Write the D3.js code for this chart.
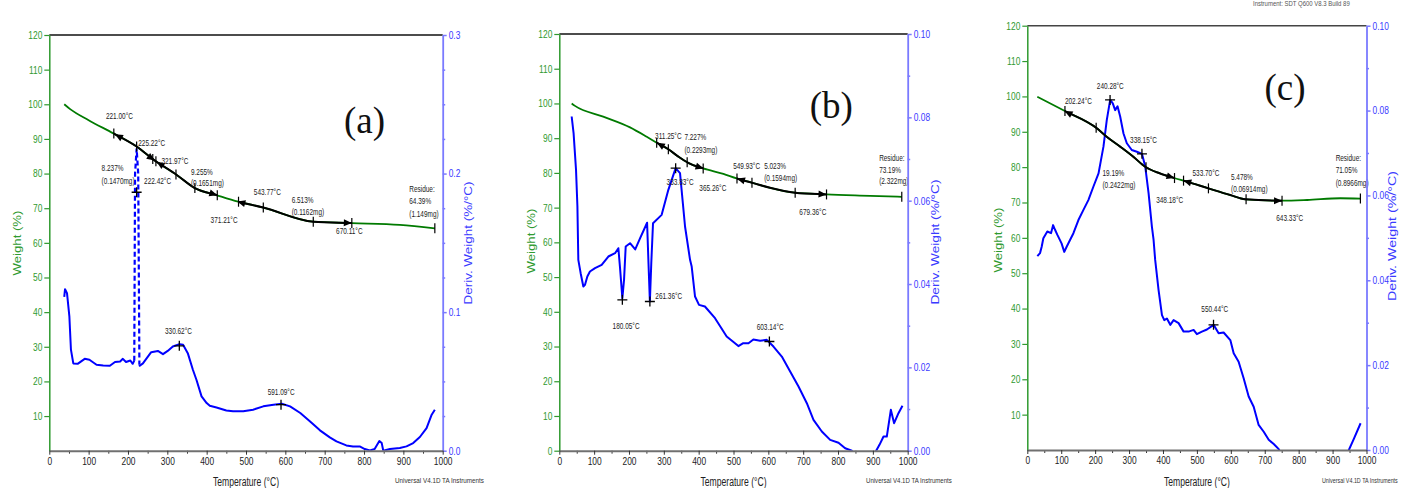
<!DOCTYPE html>
<html><head><meta charset="utf-8">
<script src="https://cdn.jsdelivr.net/npm/d3@7"></script>
<style>
body{margin:0;background:#fff;}
svg{display:block;}
text{font-family:"Liberation Sans",Arial,sans-serif;}
</style></head><body>
<svg id="chart" width="1402" height="488"></svg>
<script>
// ---------- tick labels ----------
const xTickVals = [0,100,200,300,400,500,600,700,800,900,1000];
const xMinorVals = [50,150,250,350,450,550,650,750,850,950];
const wTicksAC = [10,20,30,40,50,60,70,80,90,100,110,120];
const wTicksB = [0,10,20,30,40,50,60,70,80,90,100,110,120];
const dMajorA = [0,0.1,0.2,0.3];
const dMinorA = [0.025,0.05,0.075,0.125,0.15,0.175,0.225,0.25,0.275];
const dMajorBC = [0,0.02,0.04,0.06,0.08,0.10];
const dMinorBC = [0.01,0.03,0.05,0.07,0.09];

// ---------- panel (a) ----------
const weightA = [[38,100],[53,98.6],[100,95.4],[163,91.6],[222,87.8],[264,84.1],[324,79.6],[370,75.8],[425,73.8],[480,71.9],[544,70.2],[671,66.1],[769,65.7],[891,65.2],[980,64.2]];
const derivA = [[38,0.111],[40,0.1166],[45,0.1137],[51,0.097],[55,0.073],[61,0.063],[72,0.0627],[90,0.0663],[102,0.0656],[120,0.062],[137,0.0615],[154,0.0613],[167,0.064],[180,0.0644],[187,0.0663],[195,0.064],[206,0.0651],[212,0.0627],[216,0.065],[218,0.2],[222,0.218],[226,0.2],[229,0.062],[230,0.0613],[238,0.063],[259,0.0711],[276,0.072],[289,0.0697],[301,0.072],[314,0.0752],[331,0.0769],[340,0.0764],[352,0.0704],[365,0.0584],[374,0.0512],[387,0.0392],[400,0.0344],[408,0.0324],[425,0.0312],[450,0.029],[467,0.0284],[493,0.0284],[518,0.0296],[544,0.032],[570,0.0332],[591,0.0339],[612,0.032],[638,0.0272],[663,0.0211],[688,0.0147],[713,0.0096],[730,0.0067],[755,0.0038],[772,0.0031],[789,0.0031],[802,0.0012],[815,0.0002],[827,0.0012],[839,0.007],[845,0.0055],[849,0],[866,0.0012],[891,0.0019],[908,0.0031],[925,0.0055],[942,0.0099],[959,0.0163],[972,0.026],[980,0.0296]];
const blackA = [[164,427],[481,769]];
const arrowsA = [[167,-1],[268,1],[273,-1],[427,1],[478,-1],[769,1]];
const stepTicksA = [164,222,263,271,322,370,427,481,544,671,769,980];
const plusA = [[222,0.1865],[330.5,0.0757],[589,0.0332]];
const labelsA = [[144,95.7,"221.00°C"],[226,88.1,"225.22°C"],[133,80.8,"8.237%"],[133,77.0,"(0.1470mg)"],[241,76.9,"222.42°C"],[285,82.8,"321.97°C"],[360,79.6,"9.255%"],[360,76.3,"(0.1651mg)"],[410,65.7,"371.21°C"],[520,73.8,"543.77°C"],[616,71.4,"6.513%"],[616,68.1,"(0.1162mg)"],[729,62.6,"670.11°C"],[915,74.8,"Residue:"],[915,71.1,"64.39%"],[915,67.6,"(1.149mg)"],[294,33.7,"330.62°C"],[555,16.1,"591.09°C"]];

// ---------- panel (b) ----------
const weightB = [[35.5,100],[45,99.3],[126,96.2],[203,93.1],[251,90.4],[279.5,88.7],[313,86.8],[341.6,84.7],[370,82.9],[413,81.3],[471,79.7],[509,78.4],[552,77.2],[605,75.7],[676.5,74.3],[767,73.8],[892,73.4],[983,73.1]];
const derivB = [[35.5,0.0802],[41,0.0762],[48,0.0674],[52,0.0586],[54.6,0.0458],[61.3,0.0426],[69,0.0394],[73.8,0.0398],[80.5,0.0418],[88,0.043],[102.5,0.0438],[121.6,0.0446],[140.8,0.0466],[160,0.0474],[169.5,0.0486],[174,0.0442],[181,0.0366],[185.8,0.041],[190.6,0.049],[203,0.0498],[217.9,0.0483],[232,0.051],[252,0.0547],[256,0.045],[260,0.0358],[264,0.045],[269,0.0546],[293.8,0.0566],[313,0.0626],[334,0.0678],[346.5,0.0666],[360.9,0.0538],[375.3,0.0458],[380,0.0442],[389.6,0.037],[401,0.035],[418,0.0346],[447,0.0318],[480.4,0.0274],[504.3,0.0258],[514,0.0251],[528,0.0258],[543,0.0258],[557,0.0267],[576.5,0.0264],[595.6,0.0266],[614.7,0.025],[638.7,0.0226],[662.6,0.019],[686.6,0.0154],[710.5,0.0114],[729.6,0.0074],[753.5,0.0046],[777.5,0.0026],[801.4,0.0019],[820.5,0.0006],[839.7,0],[860,-0.003],[890,-0.003],[909.5,0],[919,0.0014],[930.6,0.0034],[940,0.0034],[951.6,0.0098],[961,0.0066],[973.5,0.009],[985,0.0108]];
const blackB = [[279.5,413],[510,767]];
const arrowsB = [[280,-1],[414,1],[510,-1],[767,1]];
const stepTicksB = [279.5,313,367,413,510,553,677,767,983];
const plusB = [[334,0.0678],[181,0.0362],[260,0.0358],[603,0.0262]];
const labelsB = [[275,89.8,"311.25°C"],[359,89.5,"7.227%"],[359,85.6,"(0.2293mg)"],[308,76.5,"333.83°C"],[402,74.8,"365.26°C"],[499,81.0,"549.93°C"],[588,81.1,"5.023%"],[588,77.8,"(0.1594mg)"],[689,67.9,"679.36°C"],[918,83.5,"Residue:"],[918,80.1,"73.19%"],[918,76.7,"(2.322mg)"],[153,35.0,"180.05°C"],[275.6,43.6,"261.36°C"],[566.5,34.8,"603.14°C"]];

// ---------- panel (c) ----------
const weightC = [[29.5,99.9],[108,96.0],[205,91.0],[234,88.6],[273.7,85.8],[313,82.9],[347.5,80.1],[391.8,78.2],[431,77.0],[470.6,75.9],[534,74.0],[598.5,72.1],[642.7,70.9],[751,70.5],[825,70.7],[923,71.2],[982,71.1]];
const derivC = [[29.6,0.0457],[37.5,0.0464],[42.4,0.0479],[47.3,0.0499],[59,0.0515],[70,0.0511],[76,0.053],[81.8,0.0519],[88.7,0.0507],[101,0.0487],[109,0.0467],[116,0.0479],[126,0.0495],[136,0.0511],[150.7,0.0542],[165.5,0.0566],[180,0.0589],[195,0.0621],[210,0.0652],[224.5,0.0715],[234.4,0.0778],[244.3,0.0825],[252,0.0817],[259,0.0801],[266,0.081],[273.8,0.0786],[283.6,0.0746],[293.4,0.0723],[308,0.0707],[323,0.0703],[338,0.0698],[347.7,0.0668],[357.6,0.0605],[367.4,0.0526],[372.3,0.0495],[377,0.0448],[387,0.0377],[397,0.0318],[403.8,0.0306],[411.6,0.031],[421.5,0.0295],[431.3,0.0306],[446,0.0299],[460.8,0.0279],[475.6,0.0279],[490.3,0.0283],[500,0.0273],[514.8,0.0279],[529.6,0.0284],[549.3,0.0295],[564,0.0275],[578.8,0.0277],[598.5,0.0259],[608.4,0.0228],[623,0.0208],[637.8,0.0169],[652.6,0.0126],[667.4,0.0102],[682,0.0059],[697,0.0043],[711.7,0.0024],[726.5,0.0014],[741.3,0.0002],[760,-0.003],[930,-0.003],[948,0],[963,0.0027],[982.6,0.0063]];
const blackC = [[111,434],[460,751]];
const arrowsC = [[110,-1],[434,1],[460,-1],[751,1]];
const stepTicksC = [111,203,350,434,460.6,534,645,751,982];
const plusC = [[244,0.0825],[338,0.0698],[549,0.0295]];
const labelsC = [[111,97.9,"202.24°C"],[205,102.1,"240.28°C"],[303,86.7,"338.15°C"],[221.5,77.5,"19.19%"],[221.5,74.2,"(0.2422mg)"],[380,69.8,"348.18°C"],[487,77.6,"533.70°C"],[600.5,76.4,"5.478%"],[600.5,72.9,"(0.06914mg)"],[734,64.8,"643.33°C"],[909,81.7,"Residue:"],[909,78.2,"71.05%"],[909,74.7,"(0.8966mg)"],[513,39.1,"550.44°C"]];

// ---------- layout ----------
const panels = [
 {id:"a",left:49.3,right:442.7,top:35,bottom:450.7,dMax:0.3,weight:weightA,deriv:derivA,dash:[216,229],black:blackA,arrows:arrowsA,ticks:stepTicksA,plus:plusA,labels:labelsA,tag:"(a)",tagPos:[749,91.8],wTicks:wTicksAC,dMajor:dMajorA,dMinor:dMinorA,dFmt:".1f",topColor:"#111",lt:17,rt:468,tyL:243,tyR:243,rLen:123,univX:395,univLen:89},
 {id:"b",left:559.3,right:907.7,top:34,bottom:450.7,dMax:0.1,weight:weightB,deriv:derivB,dash:null,black:blackB,arrows:arrowsB,ticks:stepTicksB,plus:plusB,labels:labelsB,tag:"(b)",tagPos:[719,95.8],wTicks:wTicksB,dMajor:dMajorBC,dMinor:dMinorBC,dFmt:".2f",topColor:"#111",lt:531,rt:935,tyL:241,tyR:242,rLen:125,univX:866,univLen:86},
 {id:"c",left:1027.3,right:1366.5,top:25.7,bottom:450,dMax:0.1,weight:weightC,deriv:derivC,dash:null,black:blackC,arrows:arrowsC,ticks:stepTicksC,plus:plusC,labels:labelsC,tag:"(c)",tagPos:[699,98.9],wTicks:wTicksAC,dMajor:dMajorBC,dMinor:dMinorBC,dFmt:".2f",topColor:"#444",lt:998,rt:1392,tyL:240,tyR:236,rLen:130,univX:1322,univLen:76}
];

const GREEN_CURVE="#007a00", GREEN_AX="#2f9a2f", BLUE="#0000ff", BLUE_AX="#7a7aff", BLUE_TXT="#3a3aff";
const svg = d3.select("#chart");
const defs = svg.append("defs");

function interp(arr,t){
  const i=d3.bisector(d=>d[0]).left(arr,t);
  if(i<=0) return arr[0][1];
  if(i>=arr.length) return arr[arr.length-1][1];
  const a=arr[i-1], b=arr[i];
  return a[1]+(b[1]-a[1])*(t-a[0])/(b[0]-a[0]);
}
// horizontally condensed text placed with a transform (so its box is the drawn box)
function condText(sel,x,y,sx){
  sel.attr("x",0).attr("y",0).attr("transform",`translate(${x},${y}) scale(${sx},1)`);
}

panels.forEach(p=>{
  const x=d3.scaleLinear().domain([0,1000]).range([p.left,p.right]);
  const yW=d3.scaleLinear().domain([0,120]).range([p.bottom,p.top]);
  const yD=d3.scaleLinear().domain([0,p.dMax]).range([p.bottom,p.top]);
  const g=svg.append("g");

  defs.append("clipPath").attr("id","clip-"+p.id).append("rect")
    .attr("x",p.left).attr("y",p.top).attr("width",p.right-p.left).attr("height",p.bottom-p.top);

  g.append("line").attr("x1",p.left).attr("x2",p.right).attr("y1",p.top).attr("y2",p.top)
    .attr("stroke",p.topColor).attr("stroke-width",1.5);

  const plot=g.append("g").attr("clip-path",`url(#clip-${p.id})`);

  // derivative curve
  const inDash=d=>p.dash && d[0]>p.dash[0] && d[0]<p.dash[1];
  const lineSolid=d3.line().defined(d=>!inDash(d)).x(d=>x(d[0])).y(d=>yD(d[1]));
  plot.append("path").datum(p.deriv).attr("d",lineSolid)
    .attr("fill","none").attr("stroke",BLUE).attr("stroke-width",2).attr("stroke-linejoin","round");
  if(p.dash){
    const seg=p.deriv.filter(d=>d[0]>=p.dash[0]&&d[0]<=p.dash[1]);
    plot.append("path").datum(seg).attr("d",d3.line().x(d=>x(d[0])).y(d=>yD(d[1])))
      .attr("fill","none").attr("stroke",BLUE).attr("stroke-width",2.2).attr("stroke-dasharray","5,3");
  }

  // weight curve
  const lineW=d3.line().curve(d3.curveMonotoneX).x(d=>x(d[0])).y(d=>yW(d[1]));
  plot.append("path").datum(p.weight).attr("d",lineW)
    .attr("fill","none").attr("stroke",GREEN_CURVE).attr("stroke-width",1.8);

  // black step-analysis segments
  p.black.forEach((r,i)=>{
    const cid=`clipb-${p.id}-${i}`;
    defs.append("clipPath").attr("id",cid).append("rect")
      .attr("x",x(r[0])).attr("y",p.top).attr("width",x(r[1])-x(r[0])).attr("height",p.bottom-p.top);
    g.append("path").datum(p.weight).attr("d",lineW).attr("clip-path",`url(#${cid})`)
      .attr("fill","none").attr("stroke","#000").attr("stroke-width",2);
  });

  // step tick marks
  p.ticks.forEach(t=>{
    const cx=x(t), cy=yW(interp(p.weight,t));
    g.append("line").attr("x1",cx).attr("x2",cx).attr("y1",cy-5).attr("y2",cy+5)
      .attr("stroke","#000").attr("stroke-width",1.2);
  });

  // arrowheads
  p.arrows.forEach(a=>{
    const t=a[0], dir=a[1];
    const cx=x(t), cy=yW(interp(p.weight,t));
    const x1=x(t-10), y1=yW(interp(p.weight,t-10)), x2=x(t+10), y2=yW(interp(p.weight,t+10));
    let ang=Math.atan2(y2-y1,x2-x1)*180/Math.PI;
    if(dir<0) ang+=180;
    g.append("path").attr("d","M0,0L-8,-3.5L-8,3.5Z")
      .attr("transform",`translate(${cx},${cy}) rotate(${ang})`).attr("fill","#000");
  });

  // plus markers on derivative peaks
  p.plus.forEach(m=>{
    const cx=x(m[0]), cy=yD(m[1]);
    g.append("path").attr("d",`M${cx-5},${cy}H${cx+5}M${cx},${cy-5}V${cy+5}`)
      .attr("stroke","#000").attr("stroke-width",1.3);
  });

  // annotation texts
  g.selectAll("text.ann").data(p.labels).join("text").attr("class","ann")
    .text(d=>d[2]).attr("font-size","8.5px").attr("fill","#222")
    .each(function(d){ condText(d3.select(this),x(d[0]),yW(d[1]),0.76); });

  // panel tag
  g.append("text").attr("x",x(p.tagPos[0])).attr("y",yW(p.tagPos[1])).text(p.tag)
    .style("font-family","'Liberation Serif','Times New Roman',serif").attr("font-size","37px").attr("fill","#111");

  // left axis
  const axL=g.append("g").attr("transform",`translate(${p.left},0)`)
    .call(d3.axisLeft(yW).tickValues(p.wTicks).tickSize(5).tickSizeOuter(0).tickPadding(2).tickFormat(d3.format("d")));
  axL.select(".domain").attr("stroke",GREEN_AX).attr("stroke-width",1.5);
  axL.selectAll(".tick line").attr("stroke",GREEN_AX).attr("stroke-width",1.2);
  axL.selectAll(".tick text").attr("class","cond").attr("fill",GREEN_AX).attr("font-size","10.5px");

  // right axis
  const axRm=g.append("g").attr("transform",`translate(${p.right},0)`)
    .call(d3.axisRight(yD).tickValues(p.dMinor).tickSize(2.5).tickSizeOuter(0).tickFormat(""));
  axRm.select(".domain").remove();
  axRm.selectAll(".tick line").attr("stroke",BLUE_AX).attr("stroke-width",1.5);
  const axR=g.append("g").attr("transform",`translate(${p.right},0)`)
    .call(d3.axisRight(yD).tickValues(p.dMajor).tickSize(4).tickSizeOuter(0).tickPadding(2).tickFormat(d3.format(p.dFmt)));
  axR.select(".domain").attr("stroke",BLUE_AX).attr("stroke-width",1.8);
  axR.selectAll(".tick line").attr("stroke",BLUE_AX).attr("stroke-width",1.5);
  axR.selectAll(".tick text").attr("class","cond").attr("fill",BLUE_TXT).attr("font-size","10.5px");

  // bottom axis
  const axBm=g.append("g").attr("transform",`translate(0,${p.bottom})`)
    .call(d3.axisBottom(x).tickValues(xMinorVals).tickSize(3).tickSizeOuter(0).tickFormat(""));
  axBm.select(".domain").remove();
  axBm.selectAll(".tick line").attr("stroke","#333");
  const axB=g.append("g").attr("transform",`translate(0,${p.bottom})`)
    .call(d3.axisBottom(x).tickValues(xTickVals).tickSize(4).tickSizeOuter(0).tickPadding(3).tickFormat(d3.format("d")));
  axB.select(".domain").attr("stroke","#707070").attr("stroke-width",2);
  axB.selectAll(".tick line").attr("stroke","#333");
  axB.selectAll(".tick text").attr("class","cond").attr("fill","#222").attr("font-size","10.5px");

  // axis titles
  g.append("text").attr("transform",`translate(${p.lt},${p.tyL}) rotate(-90)`).attr("text-anchor","middle")
    .attr("dy","0.35em").attr("fill",GREEN_AX).attr("font-size","11.5px")
    .attr("textLength",65).attr("lengthAdjust","spacingAndGlyphs").text("Weight (%)");
  g.append("text").attr("transform",`translate(${p.rt},${p.tyR}) rotate(-90)`).attr("text-anchor","middle")
    .attr("dy","0.35em").attr("fill",BLUE_TXT).attr("font-size","11.5px")
    .attr("textLength",p.rLen).attr("lengthAdjust","spacingAndGlyphs").text("Deriv. Weight (%/°C)");
  g.append("text").attr("x",(p.left+p.right)/2).attr("y",486).attr("text-anchor","middle")
    .attr("fill","#222").attr("font-size","12.5px").attr("textLength",66).attr("lengthAdjust","spacingAndGlyphs")
    .text("Temperature (°C)");
  const u=g.append("text").attr("fill","#333").attr("font-size","8px").text("Universal V4.1D TA Instruments");
  const uw=u.node().getComputedTextLength();
  condText(u,p.univX,483,p.univLen/uw);
});

const inst=svg.append("text").attr("fill","#555").attr("font-size","7.5px").text("Instrument: SDT Q600 V8.3 Build 89");
condText(inst,1253,6,97/inst.node().getComputedTextLength());

// condensed look of the original instrument software fonts (tick labels)
svg.selectAll("text.cond").each(function(){
  const w=this.getComputedTextLength();
  d3.select(this).attr("textLength",w*0.8).attr("lengthAdjust","spacingAndGlyphs");
});
</script>
</body></html>
